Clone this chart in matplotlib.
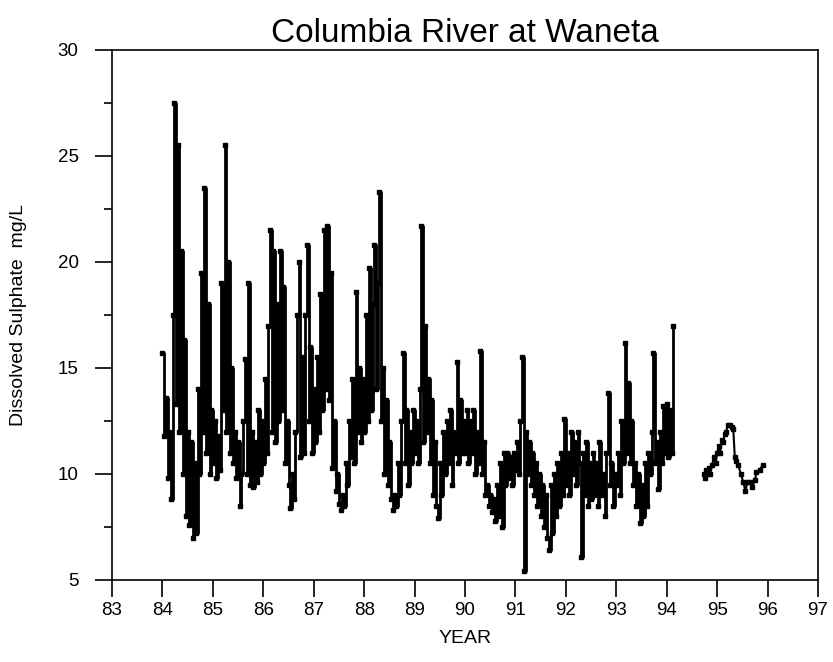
import numpy as np
import matplotlib
matplotlib.use("Agg")
import matplotlib.pyplot as plt
from matplotlib.ticker import MultipleLocator

plt.rcParams['font.family'] = ['Liberation Sans', 'DejaVu Sans']

# sulphate readings, ~30 per year starting at Jan 1 of each year
y84 = [15.7, 11.8, 13.6, 9.8, 12.0, 8.8, 17.5, 27.5, 13.3, 25.5, 12.0, 20.5, 10.0, 16.3, 8.0,
       12.0, 7.6, 11.5, 7.0, 10.5, 7.2, 14.0, 10.0, 19.5, 12.0, 23.5, 11.0, 18.0, 10.0, 13.0]
y85 = [10.5, 12.5, 9.8, 11.8, 10.2, 19.0, 13.0, 25.5, 12.0, 20.0, 11.0, 15.0, 10.5, 12.0, 9.8,
       11.5, 8.5, 10.0, 12.5, 15.4, 10.0, 19.0, 9.5, 12.0, 9.4, 11.5, 9.6, 13.0, 10.0, 12.5]
y86 = [10.5, 14.5, 11.0, 17.0, 21.5, 12.0, 20.5, 11.5, 18.0, 12.5, 20.5, 13.0, 18.8, 10.5, 12.5,
       9.5, 8.4, 10.0, 8.8, 12.0, 17.5, 20.0, 10.8, 15.5, 11.0, 17.5, 20.8, 12.5, 16.0, 11.0]
y87 = [14.0, 11.5, 15.5, 12.0, 18.5, 13.0, 21.5, 14.0, 21.7, 13.5, 19.5, 10.3, 12.5, 9.2, 10.0,
       8.6, 8.3, 9.0, 8.5, 10.5, 9.5, 12.5, 10.8, 14.5, 10.5, 18.6, 12.0, 15.0, 11.5, 14.5]
y88 = [12.0, 17.5, 12.5, 19.7, 13.0, 18.0, 20.8, 14.0, 19.0, 23.3, 12.5, 15.0, 10.0, 13.5, 9.5,
       11.5, 8.8, 8.3, 9.0, 8.5, 10.5, 9.0, 12.5, 15.7, 10.5, 13.0, 9.5, 12.0, 10.5, 13.0]
y89 = [11.0, 12.5, 10.5, 14.0, 21.7, 11.5, 17.0, 12.0, 14.5, 10.5, 13.5, 9.0, 11.5, 8.5, 7.9,
       10.5, 9.0, 12.0, 10.0, 12.5, 10.5, 13.0, 9.5, 12.0, 11.0, 15.3, 10.5, 13.5, 11.0, 12.5]
y90 = [11.0, 13.0, 10.5, 12.5, 11.0, 13.0, 10.0, 12.0, 10.5, 15.8, 10.0, 11.5, 9.0, 9.5, 8.5,
       9.0, 8.2, 8.8, 7.8, 9.5, 8.0, 10.5, 7.5, 11.0, 9.5, 11.0, 9.8, 10.8, 9.5, 11.0]
y91 = [10.2, 11.5, 10.0, 12.5, 15.5, 5.4, 12.0, 10.0, 11.5, 9.5, 11.0, 9.0, 10.5, 8.5, 10.0,
       8.0, 9.5, 7.5, 9.0, 7.0, 6.4, 9.5, 7.2, 10.0, 8.0, 10.5, 8.5, 11.0, 9.0, 12.6]
y92 = [9.5, 11.0, 9.0, 12.0, 10.0, 11.5, 9.5, 12.0, 10.5, 6.1, 11.0, 9.0, 11.5, 8.5, 10.5,
       8.8, 11.0, 9.0, 10.5, 8.5, 11.5, 9.0, 10.0, 8.0, 11.0, 13.8, 9.5, 10.5, 8.5, 10.0]
y93 = [9.5, 11.0, 9.0, 12.5, 10.5, 16.2, 11.0, 14.3, 10.5, 12.5, 9.5, 10.5, 8.5, 10.0, 7.7,
       9.5, 8.0, 10.5, 8.5, 11.0, 10.0, 12.0, 15.7, 10.5, 11.5, 9.3, 12.0, 10.5, 13.2, 11.0]
y94 = [13.3, 10.8, 13.0, 11.0, 17.0]

# later record after the gap
late_year = [94.73, 94.75, 94.78, 94.80, 94.83, 94.86, 94.90, 94.93, 94.97, 95.00, 95.03,
             95.06, 95.09, 95.12, 95.15, 95.18, 95.21, 95.25, 95.29, 95.32, 95.35, 95.38,
             95.42, 95.47, 95.52, 95.56, 95.60, 95.65, 95.70, 95.75, 95.78, 95.84, 95.90]
late_val = [10.0, 9.8, 10.2, 10.0, 10.3, 10.0, 10.4, 10.8, 10.5, 11.0, 11.3,
            11.0, 11.6, 11.5, 11.9, 12.0, 12.3, 12.3, 12.2, 12.1, 10.8, 10.6,
            10.4, 10.0, 9.6, 9.2, 9.6, 9.6, 9.4, 9.7, 10.1, 10.2, 10.4]

years = [84, 85, 86, 87, 88, 89, 90, 91, 92, 93, 94]
blocks = [y84, y85, y86, y87, y88, y89, y90, y91, y92, y93, y94]

x = []
y = []
for yr, vals in zip(years, blocks):
    for i, v in enumerate(vals):
        x.append(yr + i / 30.0)
        y.append(v)

fig = plt.figure(figsize=(8.33, 6.62), dpi=100)
ax = fig.add_axes([0.1345, 0.1239, 0.8475, 0.8006])

ax.plot(x, y, 'k-', lw=2.0, drawstyle='steps-post')
ax.plot(x, y, 'ks', ms=3)
ax.plot(late_year, late_val, 'k-', lw=1.5, marker='s', ms=3)

ax.set_xlim(83, 97)
ax.set_ylim(5, 30)
ax.set_xticks(np.arange(83, 98, 1))
ax.set_yticks([5, 10, 15, 20, 25, 30])
ax.yaxis.set_minor_locator(MultipleLocator(2.5))
ax.tick_params(axis='x', direction='out', length=12, width=1.2, labelsize=13.5, pad=4)
ax.tick_params(axis='y', direction='out', length=12, width=1.2, labelsize=13.5, pad=12)
ax.tick_params(axis='y', which='minor', direction='out', length=6, width=1.2)
for s in ax.spines.values():
    s.set_linewidth(1.2)

ax.set_title('Columbia River at Waneta', fontsize=24, pad=6)
ax.set_xlabel('YEAR', fontsize=14, labelpad=8)
ax.set_ylabel('Dissolved Sulphate  mg/L', fontsize=14, labelpad=22)

fig.savefig('out.png', dpi=100)
